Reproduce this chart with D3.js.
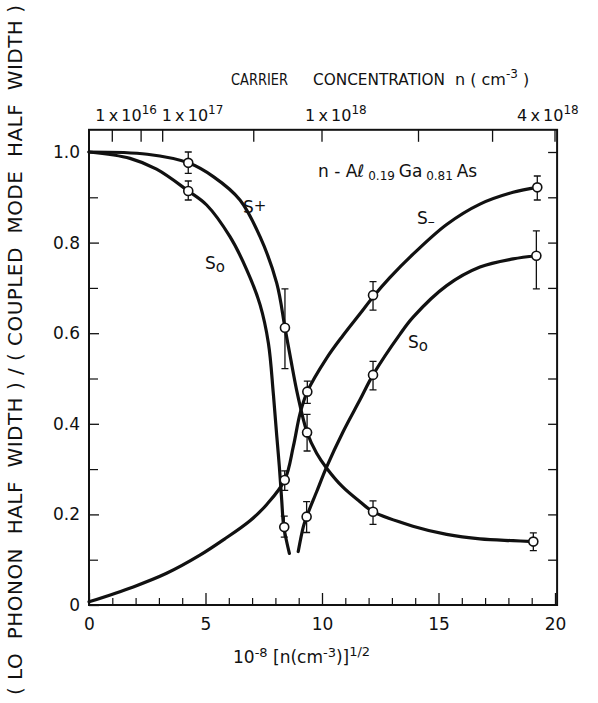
<!DOCTYPE html>
<html>
<head>
<meta charset="utf-8">
<script src="https://cdn.jsdelivr.net/npm/d3@7"></script>
<style>
  body { margin: 0; background: #fff; }
  svg { display: block; }
  text { font-family: "DejaVu Sans", "Liberation Sans", sans-serif; fill: #111; white-space: pre; }
</style>
</head>
<body>
<div id="chart"></div>
<script>
const chartWidth = 598
const chartHeight = 703

// --- data ---
// top axis: carrier concentration n (cm^-3), placed at sqrt(n) * 1e-8
const topTickConc = [1e16, 5e16, 1e17, 5e17, 1e18, 2e18, 3e18, 4e18]
const topLabelConc = [1e16, 1e17, 1e18, 4e18]
const topLabelMant = ['1', '1', '1', '4']
const topLabelExp = ['16', '17', '18', '18']

const xMajorTicks = [0, 5, 10, 15, 20]
const xMinorTicks = [1, 2, 3, 4, 6, 7, 8, 9, 11, 12, 13, 14, 16, 17, 18, 19]
const yMajorTicks = [0, 0.2, 0.4, 0.6, 0.8, 1.0]
const yMinorTicks = [0.1, 0.3, 0.5, 0.7, 0.9]
const yRightTicks = [0.1, 0.2, 0.3, 0.4, 0.5, 0.6, 0.7, 0.8, 0.9, 1.0]

// measured points [x, y, low, high]
const sPlusPts = [[4.26, 0.976, 0.953, 1.0], [8.41, 0.612, 0.522, 0.698], [9.36, 0.381, 0.34, 0.421],
  [12.19, 0.206, 0.178, 0.23], [19.07, 0.14, 0.12, 0.159]]
const sMinusPts = [[8.4, 0.276, 0.253, 0.296], [9.37, 0.471, 0.445, 0.494], [12.19, 0.684, 0.651, 0.714],
  [19.24, 0.922, 0.894, 0.947]]
const sZeroPts = [[4.26, 0.914, 0.894, 0.936], [8.38, 0.172, 0.15, 0.196], [9.34, 0.195, 0.16, 0.228],
  [12.19, 0.508, 0.475, 0.538], [19.2, 0.771, 0.698, 0.826]]

// drawn (fitted) curves
const sPlusCurve = [[0, 1.0], [2.5, 0.995], [4.26, 0.976], [5.35, 0.945], [6.48, 0.894], [7.34, 0.813],
  [8.06, 0.71], [8.41, 0.612], [8.65, 0.545], [8.95, 0.465], [9.36, 0.381], [9.77, 0.335], [10.2, 0.302],
  [10.9, 0.26], [11.63, 0.228], [12.19, 0.206], [13.9, 0.174], [15.35, 0.156], [16.78, 0.146],
  [18.2, 0.142], [19.07, 0.14]]
const sMinusCurve = [[0, 0.007], [1.9, 0.04], [3.33, 0.07], [4.76, 0.11], [5.8, 0.145], [6.91, 0.186],
  [7.63, 0.222], [8.4, 0.276], [8.77, 0.35], [9.06, 0.423], [9.37, 0.471], [10.2, 0.545], [10.9, 0.595],
  [11.63, 0.643], [12.19, 0.68], [12.9, 0.722], [13.92, 0.775], [15.35, 0.84], [16.78, 0.885],
  [18.2, 0.911], [19.24, 0.922]]
const sZeroLeftCurve = [[0, 1.0], [1.76, 0.986], [2.9, 0.962], [4.26, 0.914], [5.05, 0.883], [6.05, 0.813],
  [6.77, 0.74], [7.34, 0.663], [7.7, 0.578], [7.91, 0.467], [8.06, 0.372], [8.17, 0.305], [8.27, 0.232],
  [8.36, 0.173], [8.6, 0.114]]
const sZeroRightCurve = [[8.98, 0.118], [9.2, 0.173], [9.34, 0.195], [9.77, 0.25], [10.2, 0.305],
  [10.9, 0.382], [11.63, 0.453], [12.19, 0.508], [13.35, 0.598], [13.92, 0.636], [15.35, 0.705],
  [16.78, 0.746], [18.2, 0.764], [19.2, 0.771]]

// --- layout ---
const xScale = d3.scaleLinear().domain([0, 20]).range([89, 555])
const yScale = d3.scaleLinear().domain([0, 1]).range([605, 152])
const frameTop = 1.049
const frameRight = 20.09

const svg = d3.select('#chart').append('svg')
  .attr('width', chartWidth)
  .attr('height', chartHeight)
  .attr('viewBox', `0 0 ${chartWidth} ${chartHeight}`)

const noDomain = g => g.select('.domain').remove()

// frame
svg.append('rect')
  .attr('x', xScale(0))
  .attr('y', yScale(frameTop))
  .attr('width', xScale(frameRight) - xScale(0))
  .attr('height', yScale(0) - yScale(frameTop))
  .attr('fill', 'none')
  .attr('stroke', '#111')
  .attr('stroke-width', 2)

// bottom axis
svg.append('g')
  .attr('transform', 'translate(0,' + yScale(0) + ')')
  .call(d3.axisBottom(xScale).tickValues(xMajorTicks).tickSize(-12).tickPadding(13).tickFormat(d3.format('d')))
  .call(noDomain)
  .call(g => g.selectAll('text').style('font-size', '17px').attr('fill', '#111'))
  .call(g => g.selectAll('line').attr('stroke', '#111').attr('stroke-width', 1.3))

svg.append('g')
  .attr('transform', 'translate(0,' + yScale(0) + ')')
  .call(d3.axisBottom(xScale).tickValues(xMinorTicks).tickSize(-7).tickFormat(''))
  .call(noDomain)
  .call(g => g.selectAll('line').attr('stroke', '#111').attr('stroke-width', 1.2))

// left axis
svg.append('g')
  .attr('transform', 'translate(' + xScale(0) + ',0)')
  .call(d3.axisLeft(yScale).tickValues(yMajorTicks).tickSize(-10).tickPadding(9)
    .tickFormat(d => d === 0 ? '0' : d.toFixed(1)))
  .call(noDomain)
  .call(g => g.selectAll('text').style('font-size', '17px').attr('fill', '#111'))
  .call(g => g.selectAll('line').attr('stroke', '#111').attr('stroke-width', 1.3))

svg.append('g')
  .attr('transform', 'translate(' + xScale(0) + ',0)')
  .call(d3.axisLeft(yScale).tickValues(yMinorTicks).tickSize(-9).tickFormat(''))
  .call(noDomain)
  .call(g => g.selectAll('line').attr('stroke', '#111').attr('stroke-width', 1.2))

// right axis
svg.append('g')
  .attr('transform', 'translate(' + xScale(frameRight) + ',0)')
  .call(d3.axisRight(yScale).tickValues(yRightTicks).tickSize(-9).tickFormat(''))
  .call(noDomain)
  .call(g => g.selectAll('line').attr('stroke', '#111').attr('stroke-width', 1.3))

// top axis (concentration)
const topPos = n => xScale(Math.sqrt(n) * 1e-8)
svg.append('g')
  .attr('transform', 'translate(0,' + yScale(frameTop) + ')')
  .selectAll('line')
  .data(topTickConc)
  .enter().append('line')
  .attr('x1', d => topPos(d))
  .attr('x2', d => topPos(d))
  .attr('y1', 0)
  .attr('y2', 12)
  .attr('stroke', '#111')
  .attr('stroke-width', 1.3)

// label left edges relative to their tick
const topNudge = [-17, -1, -17, -38]
const topLabels = svg.append('g')
  .selectAll('text')
  .data(topLabelConc)
  .enter().append('text')
  .attr('x', (d, i) => topPos(d) + topNudge[i])
  .attr('y', 121)
  .style('font-size', '16px')
topLabels.append('tspan').text((d, i) => topLabelMant[i] + '\u2009x\u200910')
topLabels.append('tspan')
  .attr('dy', -7)
  .style('font-size', '12px')
  .text((d, i) => topLabelExp[i])

// titles
const titleText = (x, len, str) => svg.append('text')
  .attr('x', x)
  .attr('y', 85)
  .attr('textLength', len)
  .attr('lengthAdjust', 'spacingAndGlyphs')
  .style('font-size', '16px')
  .text(str)
titleText(231, 57, 'CARRIER')
titleText(313, 132, 'CONCENTRATION')
const unit = svg.append('text')
  .attr('x', 455)
  .attr('y', 85)
  .style('font-size', '16px')
unit.append('tspan').text('n ( cm')
unit.append('tspan').attr('dy', -7).style('font-size', '12px').text('-3')
unit.append('tspan').attr('dy', 7).text(' )')

const xLabel = svg.append('text')
  .attr('x', 233)
  .attr('y', 663)
  .style('font-size', '17px')
xLabel.append('tspan').text('10')
xLabel.append('tspan').attr('dy', -6).style('font-size', '13px').text('-8')
xLabel.append('tspan').attr('dy', 6).text(' [n(cm')
xLabel.append('tspan').attr('dy', -6).style('font-size', '13px').text('-3')
xLabel.append('tspan').attr('dy', 6).text(')]')
xLabel.append('tspan').attr('dy', -7).style('font-size', '13px').text('1/2')

svg.append('text')
  .attr('transform', 'translate(22,350) rotate(-90)')
  .attr('text-anchor', 'middle')
  .attr('textLength', 690)
  .attr('lengthAdjust', 'spacing')
  .style('font-size', '20px')
  .text('( LO  PHONON  HALF  WIDTH ) / ( COUPLED  MODE  HALF  WIDTH )')

// curves
const line = d3.line()
  .x(d => xScale(d[0]))
  .y(d => yScale(d[1]))
  .curve(d3.curveCatmullRom.alpha(0.5))

svg.append('g')
  .selectAll('path')
  .data([sPlusCurve, sMinusCurve, sZeroLeftCurve, sZeroRightCurve])
  .enter().append('path')
  .attr('d', line)
  .attr('fill', 'none')
  .attr('stroke', '#111')
  .attr('stroke-width', 3.2)
  .attr('stroke-linecap', 'round')

// error bars and circles
const allPts = sPlusPts.concat(sMinusPts, sZeroPts)
const bars = svg.append('g').attr('stroke', '#111').attr('stroke-width', 1.3)
bars.selectAll('.bar')
  .data(allPts)
  .enter().append('path')
  .attr('class', 'bar')
  .attr('fill', 'none')
  .attr('d', d => {
    const cx = xScale(d[0]), lo = yScale(d[2]), hi = yScale(d[3])
    return `M${cx - 3.5},${hi}H${cx + 3.5}M${cx},${hi}V${lo}M${cx - 3.5},${lo}H${cx + 3.5}`
  })

svg.append('g')
  .selectAll('circle')
  .data(allPts)
  .enter().append('circle')
  .attr('cx', d => xScale(d[0]))
  .attr('cy', d => yScale(d[1]))
  .attr('r', 4.5)
  .attr('fill', '#fff')
  .attr('stroke', '#111')
  .attr('stroke-width', 1.6)

// curve labels
const seriesLabel = (x, y, sub, dy, size) => {
  const t = svg.append('text').attr('x', x).attr('y', y).style('font-size', '17px')
  t.append('tspan').text('S')
  t.append('tspan').attr('dy', dy).style('font-size', size).text(sub)
}
seriesLabel(243, 213, '+', -2, '15px')
seriesLabel(205, 269, 'o', 3, '15px')
seriesLabel(417, 224, '\u2013', 2, '14px')
seriesLabel(408, 348, 'o', 3, '15px')

const comp = svg.append('text').attr('x', 318).attr('y', 177).style('font-size', '17px')
comp.append('tspan').text('n - A\u2113')
comp.append('tspan').attr('dy', 3).style('font-size', '12px').text(' 0.19 ')
comp.append('tspan').attr('dy', -3).text('Ga')
comp.append('tspan').attr('dy', 3).style('font-size', '12px').text(' 0.81 ')
comp.append('tspan').attr('dy', -3).text('As')
</script>
</body>
</html>
